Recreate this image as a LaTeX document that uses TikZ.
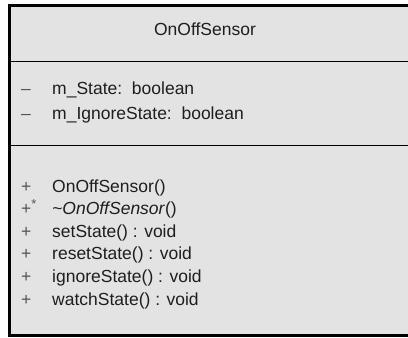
\documentclass[tikz,border=0pt]{standalone}
\usepackage{fontspec}
\setmainfont{Liberation Sans}
\usetikzlibrary{positioning}
\definecolor{boxgray}{RGB}{227,227,227}
\definecolor{ink}{RGB}{30,30,30}
\definecolor{markgray}{RGB}{85,85,85}
\tikzset{
  x=1pt,y=1pt,
  member/.style={anchor=base west,inner sep=0pt,text=ink,font=\fontsize{17.5}{20}\selectfont},
  vis/.style={anchor=base west,inner sep=0pt,text=markgray,font=\fontsize{17.5}{20}\selectfont},
  sepline/.style={line width=1.4pt,draw=black},
}
\begin{document}
\begin{tikzpicture}
  \useasboundingbox (0,0) rectangle (408,-338);
  \clip (0,0) rectangle (408,-338);
  % class box
  \draw[fill=boxgray,line width=2.6pt] (9.5,-5.5) rectangle (430,-335.5);
  \node[inner sep=0pt,text=ink,font=\fontsize{17.5}{20}\selectfont] (title) at (205,-29) {OnOffSensor};
  \draw[sepline] (9.5,-61.5) -- (430,-61.5);
  \draw[sepline] (9.5,-145.5) -- (430,-145.5);
  % attributes
  \foreach \n/\y/\t in {a1/94/m\_State:\ \ boolean, a2/119/m\_IgnoreState:\ \ boolean}
  {
    \node[vis] (v\n) at (21,-\y) {--};
    \node[member] (\n) at (52,-\y) {\t};
  }
  % operations
  \foreach \n/\y/\s/\t in {o1/192/+/OnOffSensor(), o2/214.6/+\raisebox{6pt}{\fontsize{13}{13}\selectfont*}/\textit{\textasciitilde OnOffSensor}(),
    o3/237.2/+/setState() : void, o4/259.8/+/resetState() : void,
    o5/282.4/+/ignoreState() : void, o6/305/+/watchState() : void}
  {
    \node[vis] (v\n) at (21,-\y) {\s};
    \node[member] (\n) at (52,-\y) {\t};
  }
\end{tikzpicture}
\end{document}
